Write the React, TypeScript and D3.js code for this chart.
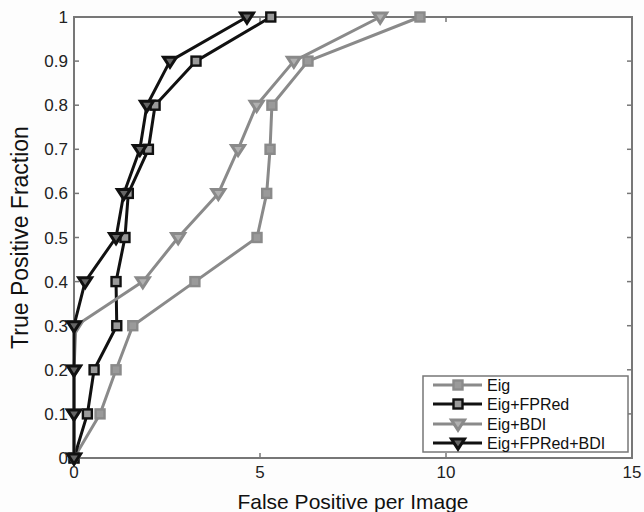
import React from 'react';
import * as d3 from 'd3';

const W = 644;
const H = 512;
const gray = '#8a8a8a';
const black = '#111';

// y values shared by every curve
const tpf = [0, 0.1, 0.2, 0.3, 0.4, 0.5, 0.6, 0.7, 0.8, 0.9, 1.0];
const eigFp = [0, 0.7, 1.13, 1.58, 3.25, 4.92, 5.18, 5.27, 5.32, 6.29, 9.3];
const fpredFp = [0, 0.36, 0.54, 1.15, 1.13, 1.37, 1.46, 2.0, 2.18, 3.28, 5.29];
const bdiFp = [0, 0, 0, 0.05, 1.85, 2.8, 3.88, 4.41, 4.91, 5.91, 8.23];
const allFp = [0, 0, 0, 0, 0.3, 1.13, 1.34, 1.77, 1.96, 2.58, 4.65];

const seriesNames = ['Eig', 'Eig+FPRed', 'Eig+BDI', 'Eig+FPRed+BDI'];
const xTicks = [0, 5, 10, 15];
const yTicks = [0, 0.1, 0.2, 0.3, 0.4, 0.5, 0.6, 0.7, 0.8, 0.9, 1];

const series = [
  { name: seriesNames[0], xs: eigFp, color: gray, marker: 'square' },
  { name: seriesNames[1], xs: fpredFp, color: black, marker: 'square' },
  { name: seriesNames[2], xs: bdiFp, color: gray, marker: 'tri' },
  { name: seriesNames[3], xs: allFp, color: black, marker: 'tri' },
];

const font = '"Liberation Sans", Arial, sans-serif';

function Marker({ kind, x, y, color }: { kind: string; x: number; y: number; color: string }) {
  if (kind === 'square') {
    return <rect x={x - 4.5} y={y - 4.5} width={9} height={9} fill="#9a9a9a" stroke={color} strokeWidth={2.4} />;
  }
  const s = 6.5;
  return (
    <path
      d={`M${x - s},${y - s * 0.6}L${x + s},${y - s * 0.6}L${x},${y + s * 0.95}Z`}
      fill={color === gray ? '#b0b0b0' : '#666'}
      stroke={color}
      strokeWidth={3}
      strokeLinejoin="miter"
    />
  );
}

export default function App() {
  const x = d3.scaleLinear().domain([0, 15]).range([74, 632]);
  const y = d3.scaleLinear().domain([0, 1]).range([458, 17]);
  const line = d3
    .line<[number, number]>()
    .x((d) => x(d[0]))
    .y((d) => y(d[1]));

  const axisColor = '#777';
  const legendRows = [385, 404, 424, 443];

  return (
    <svg width={W} height={H} style={{ position: 'absolute', left: 0, top: 0, background: '#fdfdfd' }} fontFamily={font}>
      {/* frame */}
      <rect x={x(0)} y={y(1)} width={x(15) - x(0)} height={y(0) - y(1)} fill="#fff" stroke={axisColor} strokeWidth={2} />
      {xTicks.map((t) => (
        <g key={'x' + t}>
          <line x1={x(t)} x2={x(t)} y1={y(0)} y2={y(0) - 5} stroke={axisColor} strokeWidth={1.5} />
          <line x1={x(t)} x2={x(t)} y1={y(1)} y2={y(1) + 5} stroke={axisColor} strokeWidth={1.5} />
          <text x={x(t)} y={478} textAnchor="middle" fontSize={17} fill="#222">
            {t}
          </text>
        </g>
      ))}
      {yTicks.map((t) => (
        <g key={'y' + t}>
          <line x1={x(0)} x2={x(0) + 5} y1={y(t)} y2={y(t)} stroke={axisColor} strokeWidth={1.5} />
          <line x1={x(15)} x2={x(15) - 5} y1={y(t)} y2={y(t)} stroke={axisColor} strokeWidth={1.5} />
          <text x={68} y={y(t) + 6} textAnchor="end" fontSize={17} fill="#222">
            {t}
          </text>
        </g>
      ))}

      {series.map((s) => {
        const pts = s.xs.map((v, i) => [v, tpf[i]] as [number, number]);
        return (
          <g key={s.name}>
            <path d={line(pts) ?? ''} fill="none" stroke={s.color} strokeWidth={3} strokeLinejoin="round" />
            {pts.map((p, i) => (
              <Marker key={i} kind={s.marker} x={x(p[0])} y={y(p[1])} color={s.color} />
            ))}
          </g>
        );
      })}

      {/* legend */}
      <rect x={423} y={376} width={205} height={76} fill="#fff" stroke={axisColor} strokeWidth={1.5} />
      {series.map((s, i) => (
        <g key={'lg' + s.name}>
          <line x1={433} x2={482} y1={legendRows[i]} y2={legendRows[i]} stroke={s.color} strokeWidth={3} />
          <Marker kind={s.marker} x={458} y={legendRows[i]} color={s.color} />
          <text x={487} y={legendRows[i] + 6} fontSize={16} fill="#111">
            {s.name}
          </text>
        </g>
      ))}

      <text x={353} y={509} textAnchor="middle" fontSize={21} fill="#111">
        False Positive per Image
      </text>
      <text transform={`translate(28,${(y(0) + y(1)) / 2}) rotate(-90)`} textAnchor="middle" fontSize={23} fill="#111">
        True Positive Fraction
      </text>
    </svg>
  );
}
